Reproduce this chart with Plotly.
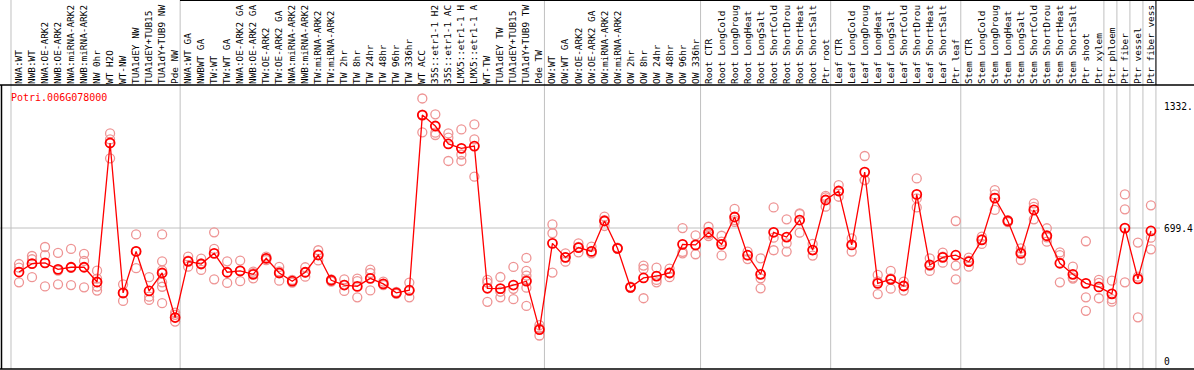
import plotly.graph_objects as go

gene = "Potri.006G078000"

labels = [
    "NWA:WT", "NWB:WT", "NWA:OE-ARK2", "NWB:OE-ARK2", "NWA:miRNA-ARK2", "NWB:miRNA-ARK2",
    "NW 0hr", "WT H2O", "WT-NW", "TUA1dEY NW", "TUA1dEY+TUB15", "TUA1dY+TUB9 NW", "Pde NW",
    "NWA:WT GA", "NWBWT GA", "TW:WT", "TW:WT GA", "NWA:OE-ARK2 GA", "NWB:OE-ARK2 GA",
    "TW:OE-ARK2", "TW:OE-ARK2 GA", "NWA:miRNA-ARK2", "NWB:miRNA-ARK2", "TW:miRNA-ARK2",
    "TW:miRNA-ARK2", "TW 2hr", "TW 8hr", "TW 24hr", "TW 48hr", "TW 96hr", "TW 336hr",
    "WT ACC", "35S::etr1-1 H2", "35S::etr1-1 AC", "LMX5::etr1-1 H", "LMX5::etr1-1 A",
    "WT-TW", "TUA1dEY TW", "TUA1dEY+TUB15", "TUA1dY+TUB9 TW", "Pde TW",
    "OW:WT", "OW:WT GA", "OW:OE-ARK2", "OW:OE-ARK2 GA", "OW:miRNA-ARK2", "OW:miRNA-ARK2",
    "OW 2hr", "OW 8hr", "OW 24hr", "OW 48hr", "OW 96hr", "OW 336hr",
    "Root CTR", "Root LongCold", "Root LongDroug", "Root LongHeat", "Root LongSalt",
    "Root ShortCold", "Root ShortDrou", "Root ShortHeat", "Root ShortSalt", "Ptr root",
    "Leaf CTR", "Leaf LongCold", "Leaf LongDroug", "Leaf LongHeat", "Leaf LongSalt",
    "Leaf ShortCold", "Leaf ShortDrou", "Leaf ShortHeat", "Leaf ShortSalt", "Ptr leaf",
    "Stem CTR", "Stem LongCold", "Stem LongDroug", "Stem LongHeat", "Stem LongSalt",
    "Stem ShortCold", "Stem ShortDrou", "Stem ShortHeat", "Stem ShortSalt", "Ptr shoot",
    "Ptr xylem", "Ptr phloem", "Ptr fiber", "Ptr vessel", "Ptr fiber vess",
]

# number of samples in each separated group
group_sizes = [13, 28, 12, 10, 10, 11, 1, 1, 1, 1]

means = [
    469, 513, 517, 483, 494, 494, 417, 1144, 360, 577, 370, 464, 231,
    525, 511, 567, 468, 475, 457, 541, 464, 421, 468, 558, 426, 401, 394, 436, 407, 360, 374,
    1290, 1233, 1139, 1116, 1128, 384, 382, 401, 421, 168,
    619, 546, 597, 577, 736, 593, 389, 438, 448, 464, 614, 611,
    677, 614, 757, 557, 457, 677, 652, 741, 584, 846,
    893, 611, 992, 410, 431, 396, 875, 506, 546, 557,
    523, 637, 856, 736, 567, 794, 659, 515, 457, 410, 391,
    355, 699, 433, 684,
]

replicates = [
    [511, 492, 415], [553, 536, 442], [600, 557, 394], [569, 476, 405], [590, 491, 401],
    [564, 527, 389], [476, 435, 393, 372], [1194, 1163, 1064], [405, 357, 318],
    [666, 577, 489], [442, 340, 323], [666, 525, 478, 415, 392, 306], [257, 245, 210],
    [550, 528, 497], [539, 514, 480], [677, 590, 431], [525, 467, 412], [529, 475, 421],
    [471, 463, 436], [550, 541, 532], [496, 472, 424], [428, 421, 414], [494, 468, 445],
    [583, 561, 530], [431, 426, 419], [431, 402, 370], [435, 421, 337], [482, 464, 373],
    [419, 407, 401], [365, 360, 355], [414, 371, 337],
    [1377, 1293, 1200], [1294, 1198, 1186], [1194, 1172, 1050], [1215, 1084, 1050],
    [1241, 1163, 968], [428, 414, 313], [443, 366, 337], [496, 381, 327],
    [543, 475, 450, 428, 387, 292], [191, 175, 137],
    [718, 672, 466], [567, 546, 523], [619, 600, 572], [602, 577, 567], [759, 740, 710],
    [596, 593, 590], [392, 389, 386], [503, 485, 332], [492, 428, 415], [487, 464, 442],
    [699, 574, 567], [661, 610, 562],
    [706, 668, 657], [659, 628, 556], [799, 741, 731], [576, 557, 537], [541, 436, 384],
    [807, 649, 583], [745, 619, 576], [776, 772, 675], [616, 584, 555], [867, 860, 811],
    [924, 893, 863], [645, 611, 576], [1076, 950, 950], [454, 420, 354], [475, 436, 382],
    [419, 396, 372], [959, 854, 807], [541, 502, 475], [571, 550, 518], [736, 503, 431],
    [544, 528, 497], [654, 640, 616], [898, 875, 794], [740, 736, 730], [593, 575, 532],
    [828, 810, 745], [698, 650, 628], [572, 558, 415], [497, 435, 440], [630, 337, 266],
    [428, 412, 332], [424, 327, 314], [875, 797, 415], [623, 445, 232], [818, 649, 588],
]

y_tick_values = [0, 699.4, 1332.7]
y_tick_text = ["0", "699.4", "1332."]
grid_value = 699.4

# ---------------- geometry ----------------
W, H = 1194, 370
ML, MR, MT, MB = 1, 0, 85, 1
PW, PH = W - ML - MR, H - MT - MB
XMIN, XMAX = -1.3836, 90.31
YMIN, YMAX = -38.2, 1447.5
RED = "#ff0000"
REP = "#ee9494"
GRID = "#c0c0c0"
MONO = "DejaVu Sans Mono"

def fx_px(px):
    return (px - ML) / PW

def fy_px(py):
    return (H - MB - py) / PH

def fx_data(x):
    return (x - XMIN) / (XMAX - XMIN)

def fy_data(y):
    return (y - YMIN) / (YMAX - YMIN)

xs = list(range(len(labels)))

rep_x, rep_y = [], []
for i, reps in enumerate(replicates):
    for v in reps:
        rep_x.append(i)
        rep_y.append(v)

fig = go.Figure()
fig.add_trace(go.Scatter(
    x=rep_x, y=rep_y, mode="markers",
    marker=dict(symbol="circle-open", size=9, color=REP, line=dict(width=1.3, color=REP)),
    hoverinfo="skip", showlegend=False, cliponaxis=False,
))
fig.add_trace(go.Scatter(
    x=xs, y=means, mode="lines+markers",
    line=dict(color=RED, width=1.3),
    marker=dict(symbol="circle-open", size=9, color=RED, line=dict(width=1.8, color=RED)),
    showlegend=False, cliponaxis=False,
))

shapes = []
# vertical group separators
boundaries = [-1]
acc = -1
for g in group_sizes:
    acc += g
    boundaries.append(acc)
offset = 5 / 13.01
top_frac = fy_px(0)
for b in boundaries:
    xf = fx_data(b + offset)
    shapes.append(dict(type="line", xref="paper", yref="paper", x0=xf, x1=xf,
                       y0=0, y1=top_frac, line=dict(color=GRID, width=1), layer="below"))
# black separator in label area at right end
xr = fx_data(boundaries[-1] + offset)
shapes.append(dict(type="line", xref="paper", yref="paper", x0=xr, x1=xr,
                   y0=1, y1=top_frac, line=dict(color="black", width=1)))
# horizontal grid line
gy = fy_data(grid_value)
shapes.append(dict(type="line", xref="paper", yref="paper", x0=fx_px(0), x1=fx_px(1160),
                   y0=gy, y1=gy, line=dict(color=GRID, width=1), layer="below"))
# frame lines
shapes.append(dict(type="line", xref="paper", yref="paper", x0=fx_px(0), x1=fx_px(W),
                   y0=1, y1=1, line=dict(color="black", width=1.5)))
shapes.append(dict(type="line", xref="paper", yref="paper", x0=fx_px(0), x1=fx_px(W),
                   y0=fy_px(369), y1=fy_px(369), line=dict(color="black", width=1.5)))
shapes.append(dict(type="line", xref="paper", yref="paper", x0=fx_px(1.5), x1=fx_px(1.5),
                   y0=fy_px(369), y1=1, line=dict(color="black", width=1.5)))
shapes.append(dict(type="line", xref="paper", yref="paper", x0=fx_px(180), x1=fx_px(W),
                   y0=fy_px(0.5), y1=fy_px(0.5), line=dict(color="black", width=1)))

annotations = [dict(
    text=gene, xref="paper", yref="paper", x=fx_px(9), y=fy_px(97),
    xanchor="left", yanchor="middle", showarrow=False,
    font=dict(family=MONO, size=10, color=RED),
)]
for v, t in zip(y_tick_values, y_tick_text):
    annotations.append(dict(
        text=t, xref="paper", yref="paper", x=fx_px(1162), y=fy_data(v),
        xanchor="left", yanchor="middle", showarrow=False,
        font=dict(family=MONO, size=9.6, color="black"),
    ))

fig.update_layout(
    width=W, height=H,
    margin=dict(l=ML, r=MR, t=MT, b=MB, pad=0),
    paper_bgcolor="white", plot_bgcolor="white",
    xaxis=dict(range=[XMIN, XMAX], side="top", tickmode="array", tickvals=xs,
               ticktext=labels, tickangle=-90, showgrid=False, zeroline=False,
               showline=False, ticks="", automargin=False,
               tickfont=dict(family=MONO, size=9.4, color="black")),
    yaxis=dict(range=[YMIN, YMAX], showgrid=False, zeroline=False, showline=False,
               showticklabels=False, ticks="", automargin=False),
    shapes=shapes, annotations=annotations,
    showlegend=False,
)

fig.write_html(
    "out.html",
    config={"displayModeBar": False},
    post_script="document.body.style.margin='0';document.body.style.overflow='hidden';",
)
